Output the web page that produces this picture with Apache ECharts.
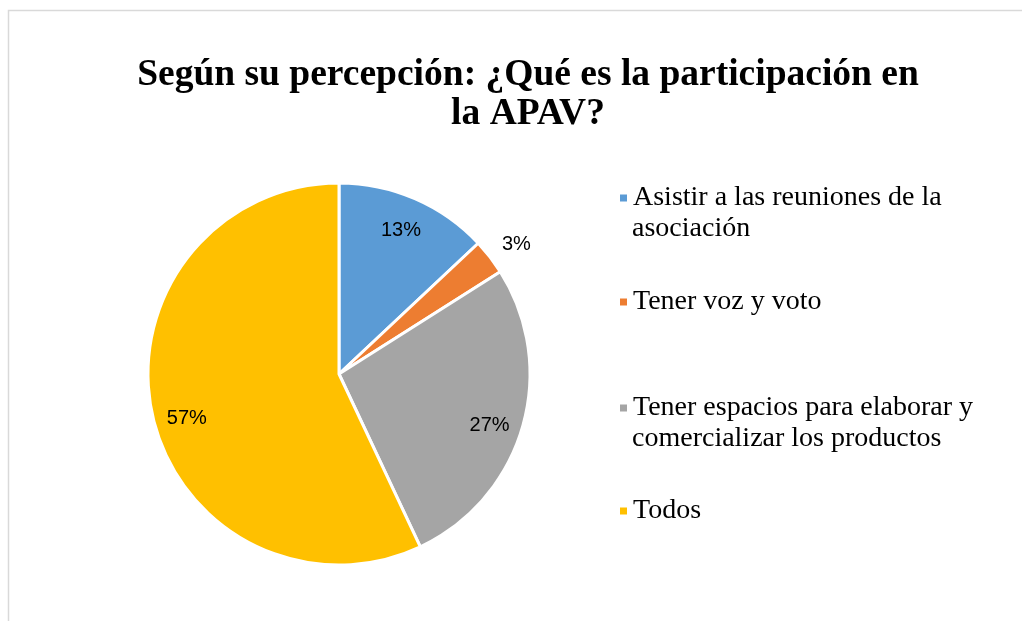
<!DOCTYPE html>
<html>
<head>
<meta charset="utf-8">
<script src="https://cdn.jsdelivr.net/npm/echarts@6/dist/echarts.min.js"></script>
<style>
  html, body { margin: 0; padding: 0; background: #fff; }
  #main { width: 1022px; height: 621px; }
</style>
</head>
<body>
<div id="main"></div>
<script>
// datos del gráfico
var titleText = 'Según su percepción: ¿Qué es la participación en\nla APAV?';
var names = [
  'Asistir a las reuniones de la asociación',
  'Tener voz y voto',
  'Tener espacios para elaborar y comercializar los productos',
  'Todos'
];
var values = [13, 3, 27, 57];
// cómo se parte cada leyenda en líneas
var legendLines = [
  ['Asistir a las reuniones de la', 'asociación'],
  ['Tener voz y voto'],
  ['Tener espacios para elaborar y', 'comercializar los productos'],
  ['Todos']
];

var myColor = ['#5B9BD5', '#ED7D31', '#A5A5A5', '#FFC000'];
var legendTop = [198, 302, 408, 511];
var lineH = 31;
// pequeños ajustes de las etiquetas
var nudgeX = [-2, 2, -4, 5];
var nudgeY = [4, 7, 7, 9];
var labelFont = { fontFamily: 'Liberation Sans', fontSize: 20, color: '#000' };

var myChart = echarts.init(document.getElementById('main'));

var pieData = names.map(function (n, i) {
  return { name: n, value: values[i] };
});

var legends = names.map(function (n, i) {
  return {
    data: [n],
    orient: 'vertical',
    left: 618,
    top: legendTop[i] - lineH / 2,
    padding: 0,
    icon: 'rect',
    itemWidth: 9,
    itemHeight: 9,
    selectedMode: false,
    formatter: function () { return legendLines[i][0]; },
    textStyle: {
      fontFamily: 'Liberation Serif',
      fontSize: 28,
      color: '#000',
      lineHeight: lineH
    }
  };
});

// segundas líneas de la leyenda
var extraText = [];
legendLines.forEach(function (lines, i) {
  for (var k = 1; k < lines.length; k++) {
    extraText.push({
      type: 'text',
      left: 632,
      top: legendTop[i] + k * lineH - lineH / 2,
      style: {
        text: lines[k],
        fontFamily: 'Liberation Serif',
        fontSize: 28,
        lineHeight: lineH,
        fill: '#000'
      }
    });
  }
});

// serie invisible que sólo coloca etiquetas
function labelSeries(name, r, show) {
  return {
    name: name,
    type: 'pie',
    center: [339, 374],
    radius: [0, r],
    startAngle: 90,
    clockwise: true,
    silent: true,
    avoidLabelOverlap: false,
    data: pieData.map(function (d, i) {
      var dx = nudgeX[i];
      return {
        name: d.name,
        value: d.value,
        label: {
          show: show(i),
          formatter: '\n{c}%',
          lineHeight: 2 * nudgeY[i],
          padding: [0, dx < 0 ? -2 * dx : 0, 0, dx > 0 ? 2 * dx : 0]
        }
      };
    }),
    itemStyle: { color: 'rgba(0,0,0,0)' },
    label: Object.assign({ position: 'inside' }, labelFont),
    labelLine: { show: false },
    emphasis: { disabled: true },
    z: 3
  };
}

var option = {
  backgroundColor: '#fff',
  title: {
    text: titleText,
    left: 523,
    top: 51,
    textAlign: 'center',
    textStyle: {
      fontFamily: 'Liberation Serif',
      fontWeight: 'bold',
      fontSize: 37.5,
      lineHeight: 39,
      color: '#000'
    }
  },
  legend: legends,
  graphic: [{
    type: 'rect',
    shape: { x: 8.5, y: 10.5, width: 1100, height: 700 },
    style: { fill: 'none', stroke: '#d9d9d9', lineWidth: 1.5 },
    silent: true
  }].concat(extraText),
  series: [{
    name: 'pie',
    type: 'pie',
    center: [339, 374],
    radius: 191,
    startAngle: 90,
    clockwise: true,
    data: pieData.map(function (d, i) {
      return { name: d.name, value: d.value, itemStyle: { color: myColor[i] } };
    }),
    label: { show: false },
    labelLine: { show: false },
    itemStyle: { borderColor: '#fff', borderWidth: 3 },
    emphasis: { disabled: true },
    z: 2
  },
  labelSeries('etiquetas', 316, function (i) { return i !== 1; }),
  labelSeries('etiqueta exterior', 438, function (i) { return i === 1; })
  ]
};

myChart.setOption(option);
</script>
</body>
</html>
